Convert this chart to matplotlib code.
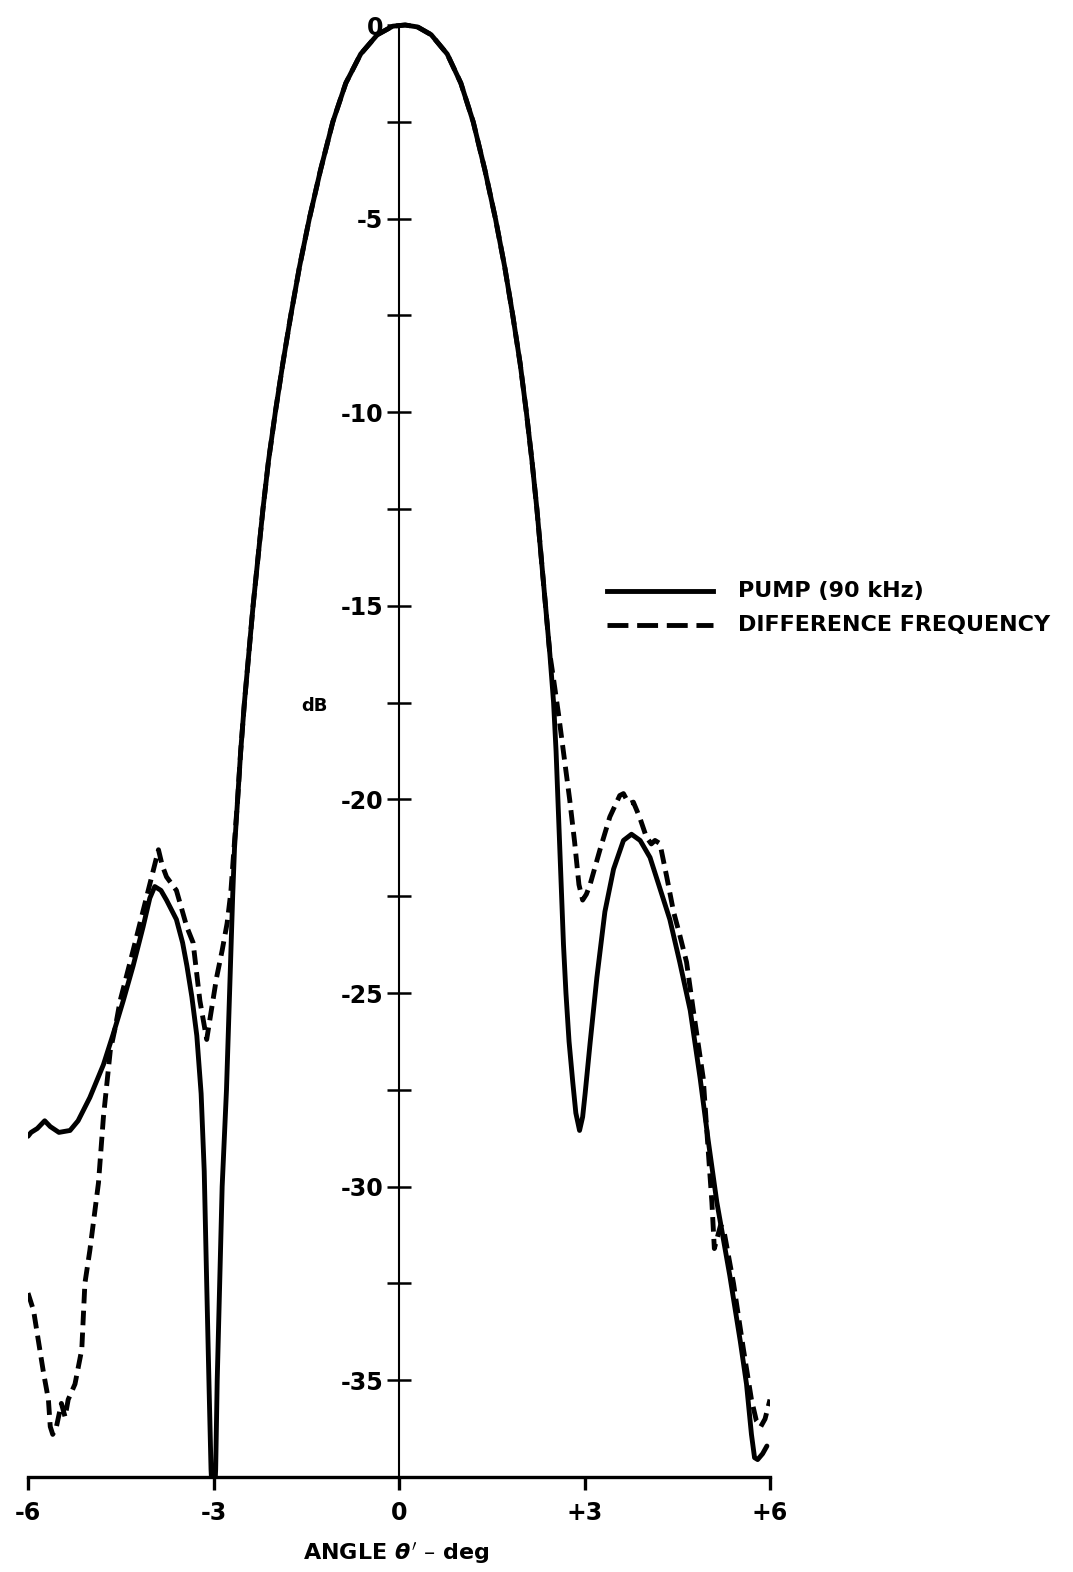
import matplotlib
matplotlib.use("Agg")
import matplotlib.pyplot as plt
from matplotlib.lines import Line2D

plt.rcParams['font.family'] = ['DejaVu Sans']
plt.rcParams['font.weight'] = 'bold'
plt.rcParams['axes.unicode_minus'] = False
plt.rcParams['mathtext.fontset'] = 'dejavusans'

# ---- data (angle in deg, level in dB) ----
pump_angle = [-6.0, -5.95, -5.85, -5.73, -5.64, -5.5, -5.32, -5.19, -5.0, -4.78,
              -4.62, -4.46, -4.3, -4.14, -4.03, -3.95, -3.85, -3.76, -3.6, -3.5,
              -3.43, -3.35, -3.27, -3.2, -3.15, -3.11, -3.07, -3.04, -3.0, -2.965,
              -2.94, -2.9, -2.86, -2.79, -2.74, -2.69, -2.66, -2.61, -2.56, -2.5,
              -2.43, -2.36, -2.28, -2.2, -2.11, -2.0, -1.88, -1.75, -1.61, -1.45,
              -1.27, -1.07, -0.86, -0.62, -0.35, -0.1, 0.1, 0.3, 0.52, 0.78,
              1.0, 1.2, 1.39, 1.56, 1.71, 1.84, 1.96, 2.06, 2.15, 2.23,
              2.3, 2.37, 2.44, 2.5, 2.54, 2.57, 2.6, 2.63, 2.66, 2.7,
              2.75, 2.81, 2.86, 2.92, 2.97, 3.01, 3.09, 3.2, 3.33, 3.47,
              3.63, 3.76, 3.9, 4.06, 4.22, 4.38, 4.54, 4.71, 4.87, 5.0,
              5.14, 5.35, 5.52, 5.62, 5.7, 5.75, 5.8, 5.88, 5.95]
pump_db = [-28.7, -28.6, -28.5, -28.3, -28.45, -28.6, -28.55, -28.3, -27.7, -26.85,
           -26.05, -25.2, -24.3, -23.3, -22.55, -22.25, -22.35, -22.6, -23.1, -23.7,
           -24.3, -25.1, -26.1, -27.6, -29.6, -32.5, -35.3, -37.3, -38.6, -37.3,
           -35.0, -32.5, -30.0, -27.5, -25.0, -22.5, -21.25, -20.0, -18.75, -17.5,
           -16.25, -15.0, -13.75, -12.5, -11.25, -10.0, -8.75, -7.5, -6.25, -5.0,
           -3.75, -2.5, -1.5, -0.75, -0.25, -0.03, 0.0, -0.05, -0.25, -0.75,
           -1.5, -2.5, -3.75, -5.0, -6.25, -7.5, -8.75, -10.0, -11.25, -12.5,
           -13.75, -15.0, -16.25, -17.5, -18.75, -20.0, -21.25, -22.5, -23.75, -25.0,
           -26.25, -27.3, -28.1, -28.55, -28.2, -27.6, -26.3, -24.6, -22.9, -21.8,
           -21.06, -20.9, -21.06, -21.5, -22.3, -23.1, -24.2, -25.45, -27.2, -28.8,
           -30.4, -32.3, -34.0, -35.1, -36.4, -37.0, -37.05, -36.9, -36.7]

diff_angle = [-6.0, -5.91, -5.81, -5.75, -5.67, -5.64, -5.6, -5.54, -5.46, -5.4,
              -5.35, -5.24, -5.13, -5.08, -5.0, -4.86, -4.78, -4.67, -4.59, -4.51,
              -4.3, -4.0, -3.89, -3.83, -3.76, -3.6, -3.43, -3.33, -3.22, -3.11,
              -3.04, -2.95, -2.86, -2.78, -2.72, -2.67, -2.61, -2.56, -2.5, -2.43,
              -2.36, -2.28, -2.2, -2.11, -2.0, -1.88, -1.75, -1.61, -1.45, -1.27,
              -1.07, -0.86, -0.62, -0.35, -0.1, 0.1, 0.3, 0.52, 0.78, 1.0,
              1.2, 1.39, 1.56, 1.71, 1.84, 1.96, 2.06, 2.15, 2.23, 2.3,
              2.37, 2.44, 2.5, 2.58, 2.67, 2.76, 2.84, 2.91, 2.97, 3.03,
              3.09, 3.25, 3.41, 3.57, 3.63, 3.68, 3.74, 3.79, 3.85, 3.9,
              4.0, 4.08, 4.14, 4.22, 4.33, 4.44, 4.54, 4.65, 4.76, 4.92,
              4.98, 5.06, 5.1, 5.2, 5.25, 5.41, 5.57, 5.7, 5.78, 5.85,
              5.92, 6.0]
diff_db = [-32.75, -33.2, -34.2, -34.8, -35.5, -36.2, -36.4, -36.2, -35.6, -35.95,
           -35.5, -35.1, -34.2, -32.5, -31.65, -29.9, -28.2, -26.5, -25.9, -25.2,
           -23.9, -22.0, -21.3, -21.7, -22.0, -22.35, -23.3, -23.7, -25.2, -26.2,
           -25.5, -24.6, -23.9, -23.2, -22.4, -21.3, -20.0, -18.75, -17.5, -16.25,
           -15.0, -13.75, -12.5, -11.25, -10.0, -8.75, -7.5, -6.25, -5.0, -3.75,
           -2.5, -1.5, -0.75, -0.25, -0.03, 0.0, -0.05, -0.25, -0.75, -1.5,
           -2.5, -3.75, -5.0, -6.25, -7.5, -8.75, -10.0, -11.25, -12.5, -13.75,
           -15.0, -16.25, -16.9, -17.8, -18.9, -20.0, -21.1, -22.2, -22.6, -22.45,
           -22.2, -21.3, -20.45, -19.9, -19.85, -20.0, -20.1, -20.07, -20.3, -20.5,
           -20.97, -21.15, -21.06, -21.14, -22.0, -22.9, -23.5, -24.2, -25.45, -27.2,
           -28.6, -30.4, -31.6, -31.0, -31.1, -32.5, -34.2, -35.5, -36.05, -36.2,
           -36.0, -35.5]

x_ticks = [-6, -3, 0, 3, 6]
x_tick_labels = ['-6', '-3', '0', '+3', '+6']
y_major = [0, -5, -10, -15, -20, -25, -30, -35]
y_major_labels = ['0', '-5', '-10', '-15', '-20', '-25', '-30', '-35']
y_minor = [-2.5, -7.5, -12.5, -17.5, -22.5, -27.5, -32.5]

W, H = 1073, 1572
fig = plt.figure(figsize=(W / 100, H / 100), dpi=100)
ax = fig.add_axes([28 / W, 1 - 1477 / H, 742 / W, (1477 - 5.65) / H])

lw = 3.5
ax.plot(pump_angle, pump_db, color='black', lw=lw, solid_capstyle='round',
        solid_joinstyle='round')
ax.plot(diff_angle, diff_db, color='black', lw=lw, dashes=(3.0, 1.5),
        dash_capstyle='butt', dash_joinstyle='round')

ax.set_xlim(-6, 6)
ax.set_ylim(-37.5, 0.5)

for s in ['top', 'right']:
    ax.spines[s].set_visible(False)
ax.spines['left'].set_position(('data', 0))
ax.spines['left'].set_bounds(-37.5, 0)
ax.spines['left'].set_linewidth(1.5)
ax.spines['bottom'].set_linewidth(2.4)

ax.set_xticks(x_ticks)
ax.set_xticklabels(x_tick_labels)
ax.set_yticks(y_major)
ax.set_yticklabels(y_major_labels)
ax.set_yticks(y_minor, minor=True)

ax.tick_params(axis='y', which='both', direction='inout', length=17, width=1.8,
               pad=3, labelsize=17)
ax.tick_params(axis='x', which='major', direction='out', length=9, width=2.4,
               pad=8, labelsize=17)

ax.text(-1.36, -17.6, 'dB', ha='center', va='center', fontsize=13,
        fontweight='bold')

fig.text(396 / W, 1 - 1553 / H, "ANGLE $\\theta'$ – deg", ha='center',
         va='center', fontsize=16, fontweight='bold')

# legend (manual)
fig.add_artist(Line2D([607 / W, 713 / W], [1 - 591 / H, 1 - 591 / H],
                      transform=fig.transFigure, color='black', lw=lw))
fig.add_artist(Line2D([607 / W, 713 / W], [1 - 625 / H, 1 - 625 / H],
                      transform=fig.transFigure, color='black', lw=lw,
                      dashes=(4.3, 1.8)))
fig.text(738 / W, 1 - 591 / H, 'PUMP (90 kHz)', ha='left', va='center',
         fontsize=16, fontweight='bold')
fig.text(738 / W, 1 - 625 / H, 'DIFFERENCE FREQUENCY', ha='left', va='center',
         fontsize=16, fontweight='bold')

fig.savefig('out.png', dpi=100, facecolor='white')
